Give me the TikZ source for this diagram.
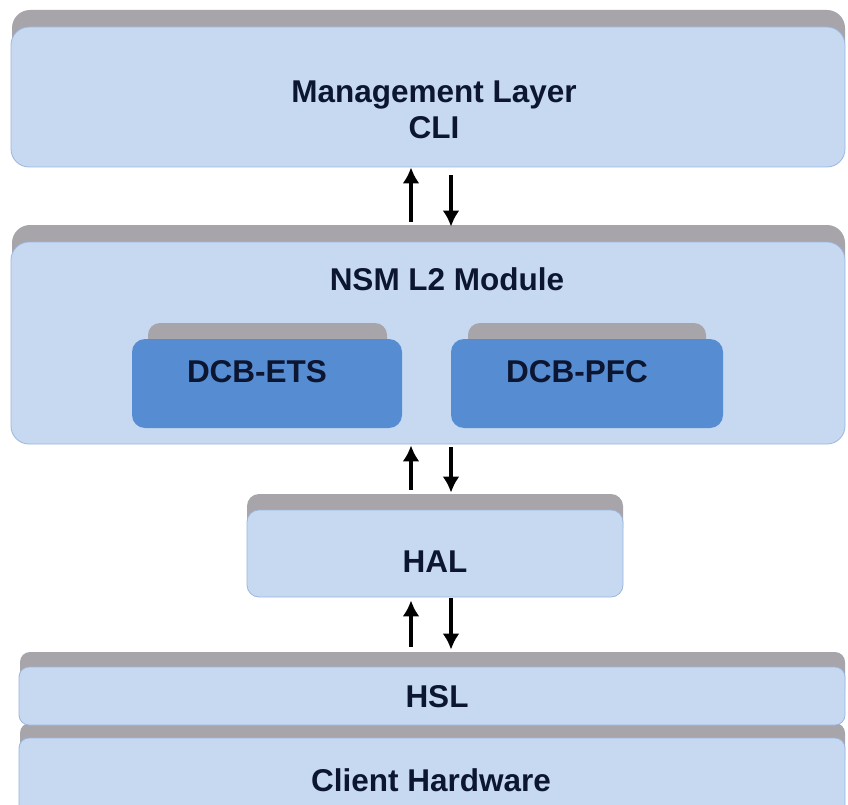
\documentclass[tikz,border=0pt]{standalone}
\usepackage{fontspec}
\setmainfont{Liberation Sans}
\tikzset{>=latex}
\usetikzlibrary{arrows.meta}
\definecolor{layerfill}{HTML}{C6D9F1}
\definecolor{layerline}{HTML}{9CB6DE}
\definecolor{tabgray}{HTML}{A7A4AA}
\definecolor{modfill}{HTML}{558CD2}
\definecolor{inktext}{HTML}{0D1630}

\begin{document}
\begin{tikzpicture}[x=1pt, y=-1pt,
    layer/.style={draw=layerline, line width=0.8pt, fill=layerfill, rounded corners=18pt, inner sep=0pt},
    module/.style={fill=modfill, rounded corners=13pt, inner sep=0pt},
    tab/.style={fill=tabgray, rounded corners=#1},
    layertext/.style={text=inktext, font=\fontsize{31.5}{36}\selectfont\bfseries, align=center, inner sep=0pt},
    flow/.style={-{Latex[length=16pt,width=17pt]}, line width=3.8pt}]
    \clip (0,0) rectangle (848,805);
    \fill[white] (0,0) rectangle (848,805);

    % grey tops behind the layers
    \fill[tab=18pt] (12,10) rectangle (845,60);
    \fill[tab=18pt] (12,225) rectangle (845,275);
    \fill[tab=12pt] (247,494) rectangle (623,540);
    \fill[tab=10pt] (20,652) rectangle (845,700);
    \fill[tab=10pt] (20,723) rectangle (845,770);

    \node[layer, minimum width=834pt, minimum height=140pt] (mgmt) at (428,97) {};
    \node[layer, minimum width=834pt, minimum height=202pt] (nsm) at (428,343) {};
    \node[layer, rounded corners=12pt, minimum width=376pt, minimum height=87pt] (hal) at (435,553.5) {};
    \node[layer, rounded corners=10pt, minimum width=826pt, minimum height=58pt] (hsl) at (432,696) {};
    \node[layer, rounded corners=10pt, minimum width=826pt, minimum height=92pt] (hw) at (432,784) {};

    % the two DCB modules inside NSM
    \fill[tab=12pt] (148,323) rectangle (387,360);
    \fill[tab=12pt] (468,323) rectangle (706,360);
    \node[module, minimum width=270pt, minimum height=89pt] (ets) at (267,383.5) {};
    \node[module, minimum width=272pt, minimum height=89pt] (pfc) at (587,383.5) {};

    \node[layertext] (mgmt-t) at (434,110) {Management Layer\\CLI};
    \node[layertext] (nsm-t) at (447,279) {NSM L2 Module};
    \node[layertext] (ets-t) at (257,372) {DCB-ETS};
    \node[layertext] (pfc-t) at (577,372) {DCB-PFC};
    \node[layertext] (hal-t) at (435,562) {HAL};
    \node[layertext] (hsl-t) at (437,697) {HSL};
    \node[layertext] (hw-t) at (431,780) {Client Hardware};

    \coordinate (up) at (411,0);
    \coordinate (dn) at (451,0);
    \draw[flow, shorten <=20pt] (up |- nsm.north) -- (up |- mgmt.south);
    \draw[flow, shorten <=8pt, shorten >=15pt] (dn |- mgmt.south) -- (dn |- nsm.north);
    \draw[flow, shorten <=20pt, shorten >=1pt] (up |- hal.north) -- (up |- nsm.south);
    \draw[flow, shorten <=3pt, shorten >=17pt] (dn |- nsm.south) -- (dn |- hal.north);
    \draw[flow, shorten <=20pt, shorten >=3pt] (up |- hsl.north) -- (up |- hal.south);
    \draw[flow, shorten <=1pt, shorten >=17pt] (dn |- hal.south) -- (dn |- hsl.north);
\end{tikzpicture}
\end{document}
